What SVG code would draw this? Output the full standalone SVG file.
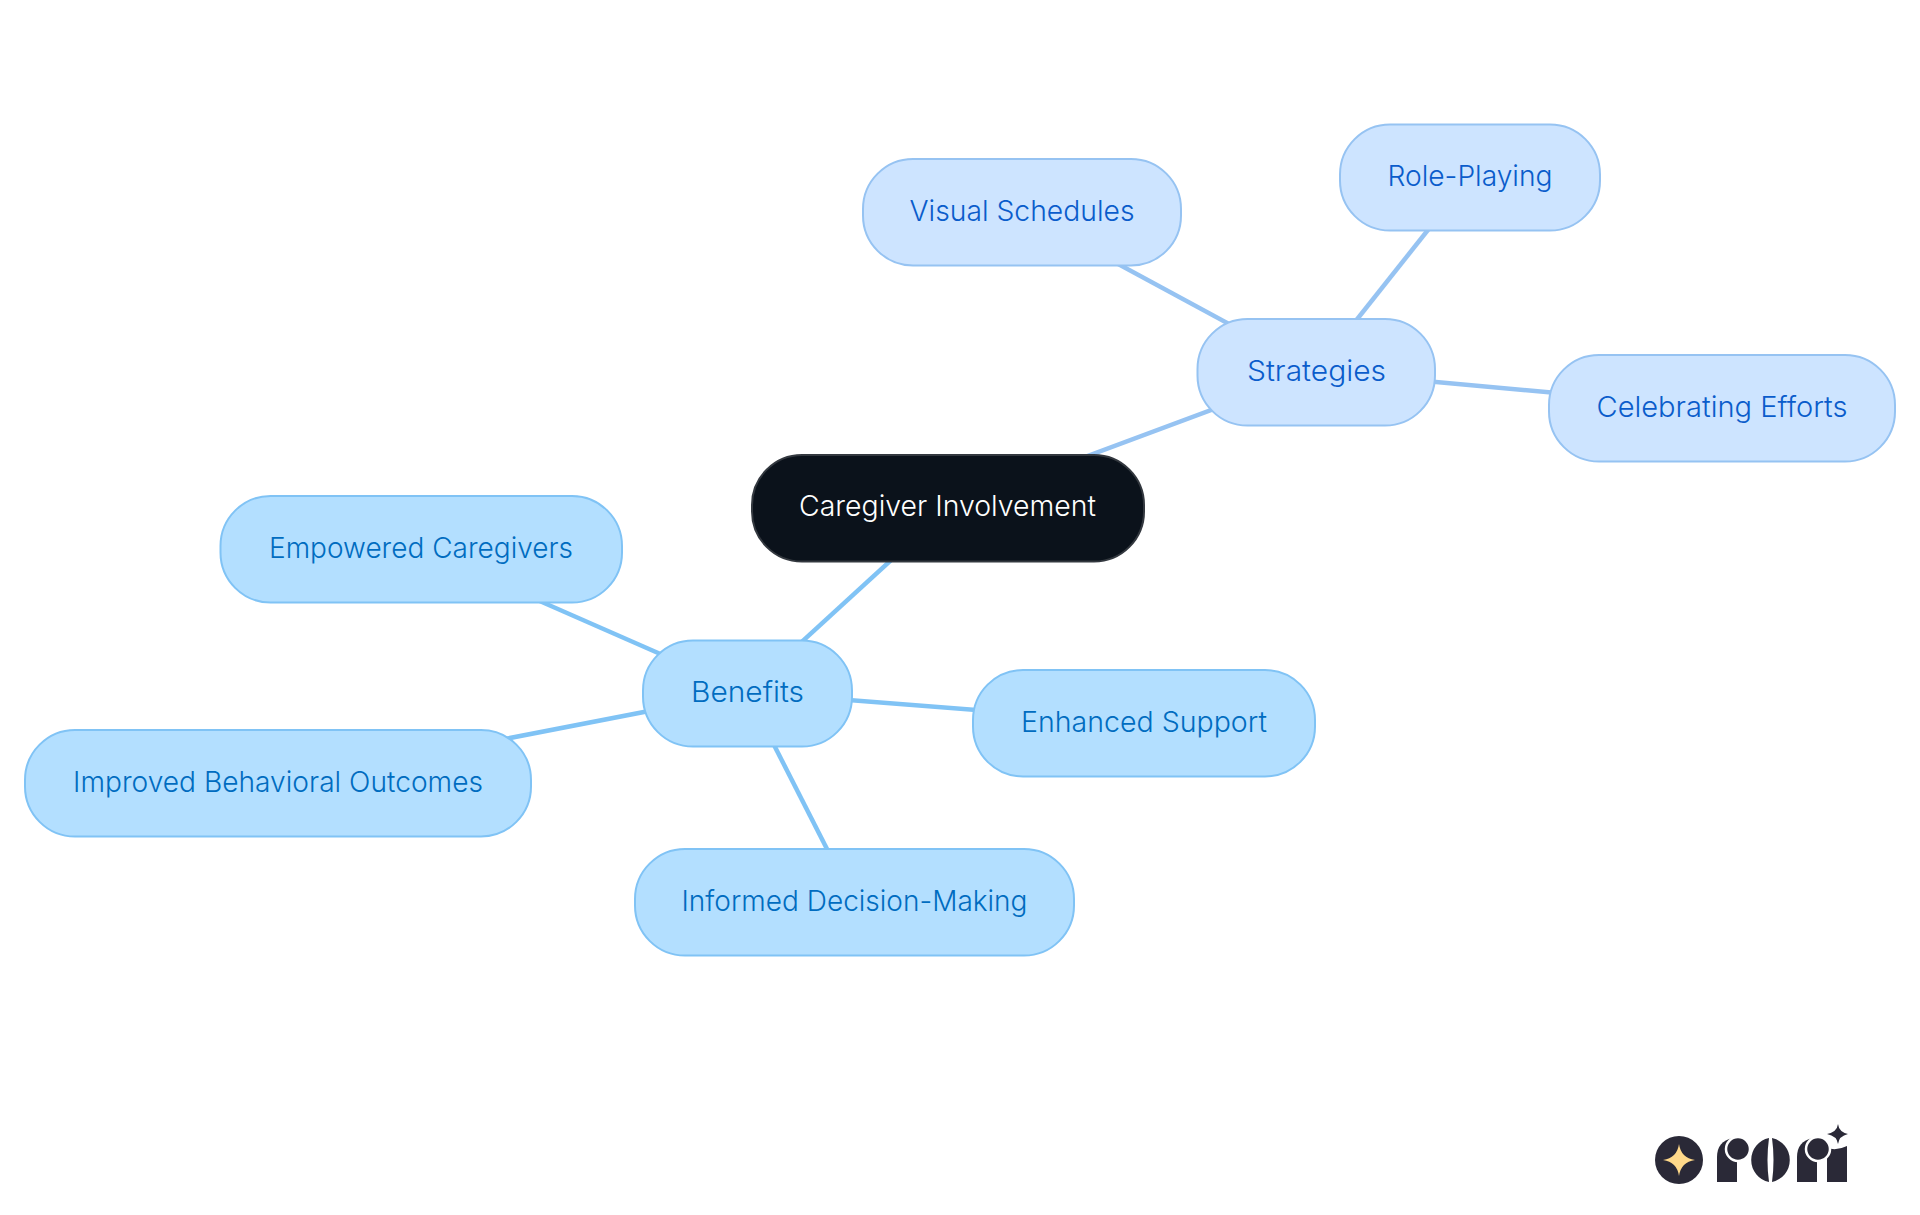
<svg xmlns="http://www.w3.org/2000/svg" width="1920" height="1215" viewBox="0 0 1920 1215">
<style>
.n rect{stroke-width:2}
.n text{font-family:"Inter","Noto Sans","Liberation Sans",sans-serif;font-size:28.500px;font-weight:300;text-anchor:middle;dominant-baseline:central}
.b rect{fill:#b3dfff;stroke:#80c3f5}.b text{fill:#006cc0}
.s rect{fill:#cde4ff;stroke:#96c3f2}.s text{fill:#0a5ccb}
.r rect{fill:#0b121b;stroke:#33383f}.r text{fill:#fff}
.c line{stroke-width:4.5;fill:none}
.cb{stroke:#80c3f5}.cs{stroke:#96c3f2}
.logo{fill:#2a2937}
.ball{fill:#2a2937;stroke:#fff;stroke-width:2.500}
</style>
<rect width="1920" height="1215" fill="#fff"/>
<g id="connectors" class="c">
<line class="cs" x1="948" y1="508" x2="1316" y2="371"/>
<line class="cs" x1="1316" y1="371" x2="1022" y2="212"/>
<line class="cs" x1="1316" y1="371" x2="1470" y2="177"/>
<line class="cs" x1="1316" y1="371" x2="1722" y2="408"/>
<line class="cb" x1="948" y1="508" x2="747" y2="692"/>
<line class="cb" x1="747" y1="692" x2="421" y2="549"/>
<line class="cb" x1="747" y1="692" x2="278" y2="783"/>
<line class="cb" x1="747" y1="692" x2="854" y2="902"/>
<line class="cb" x1="747" y1="692" x2="1144" y2="723"/>
</g>
<g id="node-root" class="n r"><rect x="752" y="455" width="392" height="106.500" rx="50"/><text x="947.500" y="505.500" textLength="297" lengthAdjust="spacingAndGlyphs">Caregiver Involvement</text></g>
<g id="node-strategies" class="n s"><rect x="1197.500" y="319" width="237.500" height="106.500" rx="50"/><text x="1316.500" y="370" textLength="139" lengthAdjust="spacingAndGlyphs">Strategies</text></g>
<g id="node-visual" class="n s"><rect x="863" y="159" width="318" height="106.500" rx="50"/><text x="1022" y="210" textLength="225" lengthAdjust="spacingAndGlyphs">Visual Schedules</text></g>
<g id="node-role" class="n s"><rect x="1340" y="124.500" width="260" height="106" rx="50"/><text x="1470" y="175.500" textLength="165" lengthAdjust="spacingAndGlyphs">Role-Playing</text></g>
<g id="node-celebrating" class="n s"><rect x="1549" y="355" width="346" height="106.500" rx="50"/><text x="1722" y="406" textLength="251" lengthAdjust="spacingAndGlyphs">Celebrating Efforts</text></g>
<g id="node-benefits" class="n b"><rect x="643" y="640.500" width="209" height="106" rx="50"/><text x="747.500" y="691.500" textLength="113" lengthAdjust="spacingAndGlyphs">Benefits</text></g>
<g id="node-empowered" class="n b"><rect x="220.500" y="496" width="401.500" height="106.500" rx="50"/><text x="421" y="547" textLength="304" lengthAdjust="spacingAndGlyphs">Empowered Caregivers</text></g>
<g id="node-improved" class="n b"><rect x="25" y="730" width="506" height="106.500" rx="50"/><text x="278" y="781" textLength="410" lengthAdjust="spacingAndGlyphs">Improved Behavioral Outcomes</text></g>
<g id="node-informed" class="n b"><rect x="635" y="849" width="439" height="106.500" rx="50"/><text x="854.500" y="900" textLength="346" lengthAdjust="spacingAndGlyphs">Informed Decision-Making</text></g>
<g id="node-enhanced" class="n b"><rect x="973" y="670" width="342" height="106.500" rx="50"/><text x="1144" y="721" textLength="246" lengthAdjust="spacingAndGlyphs">Enhanced Support</text></g>
<g id="logo">
<circle class="logo" cx="1679" cy="1160" r="24"/>
<path fill="#ffd98a" d="M1679 1144Q1681 1158 1695 1160Q1681 1162 1679 1176Q1677 1162 1663 1160Q1677 1158 1679 1144Z"/>
<path class="logo" d="M1717 1182V1157C1717 1147 1722 1140 1733 1138L1737 1160V1182Z"/>
<circle class="ball" cx="1738" cy="1149" r="12"/>
<path class="logo" d="M1769 1138A22.500 22.500 0 0 0 1769 1182Q1766 1160 1769 1138Z"/>
<path class="logo" d="M1772 1138A22.500 22.500 0 0 1 1772 1182Q1775 1160 1772 1138Z"/>
<path class="logo" d="M1827 1182V1148Q1837 1151 1847 1146V1182Z"/>
<path class="logo" d="M1797 1182V1157C1797 1147 1802 1140 1813 1138L1817 1160V1182Z"/>
<circle class="ball" cx="1818" cy="1149" r="12"/>
<path class="logo" d="M1838 1124Q1839 1132 1848 1134Q1839 1136 1838 1144Q1837 1136 1827 1134Q1837 1132 1838 1124Z"/>
</g>
</svg>
